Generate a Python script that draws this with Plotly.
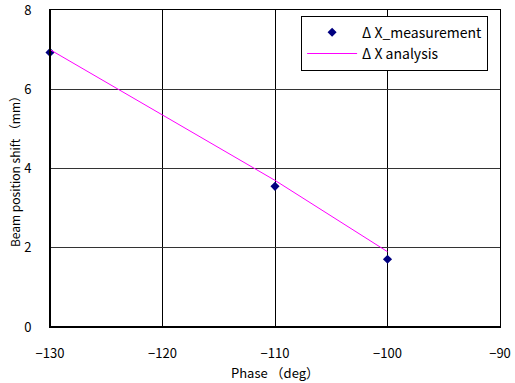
import plotly.graph_objects as go

phase_meas = [-130, -110, -100]
shift_meas = [6.93, 3.55, 1.71]
phase_ana = [-130, -110, -100]
shift_ana = [7.0, 3.7, 1.9]
x_ticks = [-130, -120, -110, -100, -90]
x_tick_labels = ["−130", "−120", "−110", "−100", "−90"]
y_ticks = [0, 2, 4, 6, 8]

font_family = "Noto Sans CJK JP, DejaVu Sans, sans-serif"

fig = go.Figure()
fig.add_trace(go.Scatter(
    x=phase_meas, y=shift_meas, mode="markers", name="Δ X_measurement",
    marker=dict(symbol="diamond", color="#000080", size=7),
    cliponaxis=False,
))
fig.add_trace(go.Scatter(
    x=phase_ana, y=shift_ana, mode="lines", name="Δ X analysis",
    line=dict(color="#FF00FF", width=1),
))

fig.update_layout(
    width=515, height=383,
    margin=dict(l=50, r=15, t=10, b=56, autoexpand=False),
    paper_bgcolor="white", plot_bgcolor="white",
    font=dict(family=font_family, size=13, color="black"),
    showlegend=True,
    legend=dict(
        x=0.558, y=0.982, xanchor="left", yanchor="top",
        bordercolor="black", borderwidth=1, bgcolor="white",
        font=dict(size=14), tracegroupgap=0, itemwidth=50,
    ),
    xaxis=dict(
        range=[-130, -90], tickvals=x_ticks, ticktext=x_tick_labels,
        showgrid=True, gridcolor="black", gridwidth=1,
        showline=True, linecolor="black", linewidth=1, mirror=True,
        zeroline=False, ticks="", ticklen=0, automargin=False,
        ticklabelstandoff=14, ticklabeloverflow="allow",
        title=dict(text="Phase （deg）", font=dict(size=13), standoff=8),
    ),
    yaxis=dict(
        range=[0, 8], tickvals=y_ticks,
        showgrid=True, gridcolor="#333333", gridwidth=1,
        showline=True, linecolor="black", linewidth=1, mirror=True,
        zeroline=False, ticks="", ticklen=0, automargin=False,
        ticklabelstandoff=15, ticklabeloverflow="allow",
        title=dict(text="Beam position shift （mm）", font=dict(size=12), standoff=0),
    ),
)
# thicker left & bottom frame lines
fig.add_shape(type="line", xref="paper", yref="paper", x0=0, x1=0, y0=0, y1=1,
              line=dict(color="black", width=2))
fig.add_shape(type="line", xref="paper", yref="paper", x0=0, x1=1, y0=0, y1=0,
              line=dict(color="black", width=2))

fig.write_html("out.html")
